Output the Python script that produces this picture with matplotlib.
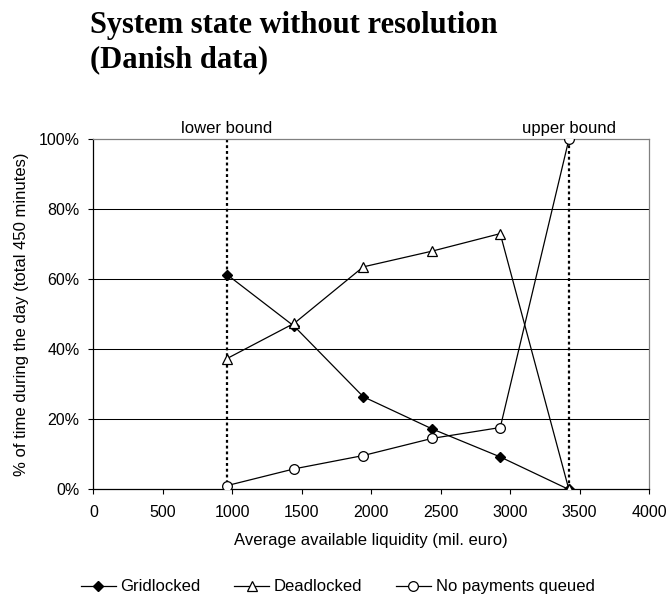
import matplotlib
matplotlib.use("Agg")
import matplotlib.pyplot as plt
from matplotlib.ticker import FuncFormatter

# data
liquidity = [962, 1447, 1943, 2439, 2929, 3423]
gridlocked = [61.4, 46.6, 26.5, 17.3, 9.3, 0.0]
deadlocked = [37.4, 47.5, 63.6, 68.1, 73.1, 0.0]
no_queue = [1.1, 5.9, 9.7, 14.6, 17.7, 100.0]
lower_bound = 962
upper_bound = 3423
x_ticks = list(range(0, 4001, 500))
y_ticks = [0, 20, 40, 60, 80, 100]

plt.rcParams['font.family'] = ['Liberation Sans', 'DejaVu Sans']

fig = plt.figure(figsize=(6.7, 5.97), dpi=100)
ax = fig.add_axes([0.1393, 0.1801, 0.8294, 0.5863])

for y in y_ticks[1:-1]:
    ax.axhline(y, color='black', lw=0.75, zorder=1)

ax.axvline(lower_bound, color='black', ls=(0, (1.3, 1.3)), lw=1.6, zorder=2)
ax.axvline(upper_bound, color='black', ls=(0, (1.3, 1.3)), lw=1.6, zorder=2)

ax.plot(liquidity, gridlocked, color='black', lw=0.9, marker='D', ms=5,
        mfc='black', mec='black', label='Gridlocked', zorder=3)
ax.plot(liquidity, deadlocked, color='black', lw=0.9, marker='^', ms=7,
        mfc='white', mec='black', mew=0.9, label='Deadlocked', zorder=3)
ax.plot(liquidity, no_queue, color='black', lw=0.9, marker='o', ms=7,
        mfc='white', mec='black', mew=0.9, label='No payments queued', zorder=4)

ax.set_xlim(0, 4000)
ax.set_ylim(0, 100)
ax.set_xticks(x_ticks)
ax.set_yticks(y_ticks)
ax.yaxis.set_major_formatter(FuncFormatter(lambda v, p: f"{int(v)}%"))
ax.tick_params(direction='out', length=3.5, width=0.8, labelsize=11.5, color='black')
ax.tick_params(axis='x', pad=8)
ax.tick_params(axis='y', pad=6.5)

ax.spines['left'].set_color('black')
ax.spines['bottom'].set_color('black')
ax.spines['top'].set_color('#808080')
ax.spines['right'].set_color('#808080')
for s in ax.spines.values():
    s.set_linewidth(0.9)

ax.set_xlabel('Average available liquidity (mil. euro)', fontsize=12, labelpad=9)
ax.set_ylabel('% of time during the day (total 450 minutes)', fontsize=12, labelpad=7)

ax.text(lower_bound, 101.8, 'lower bound', ha='center', va='baseline', fontsize=12)
ax.text(upper_bound, 101.8, 'upper bound', ha='center', va='baseline', fontsize=12)

fig.text(0.135, 1 - 33 / 597, 'System state without resolution',
         family='Liberation Serif', fontweight='bold', fontsize=22,
         ha='left', va='baseline')
fig.text(0.135, 1 - 67 / 597, '(Danish data)',
         family='Liberation Serif', fontweight='bold', fontsize=22,
         ha='left', va='baseline')

fig.legend(loc='center', bbox_to_anchor=(0.504, 0.0168), ncol=3, frameon=False,
           fontsize=12, handlelength=2.1, columnspacing=2.0, handletextpad=0.3,
           borderpad=0.2)

fig.savefig('out.png', dpi=100)
